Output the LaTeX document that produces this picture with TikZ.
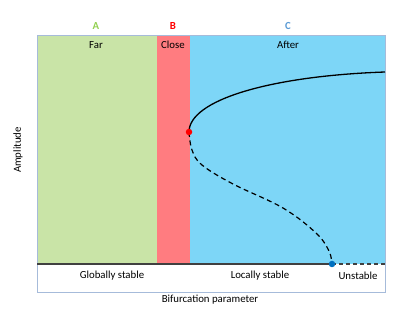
\documentclass[tikz,border=0pt]{standalone}
\usepackage{fontspec}
\setmainfont{Carlito}
\definecolor{farG}{HTML}{C9E4A7}
\definecolor{closeR}{HTML}{FF7C80}
\definecolor{afterB}{HTML}{7DD6F7}
\definecolor{labG}{HTML}{92D050}
\definecolor{labR}{HTML}{FF0000}
\definecolor{labB}{HTML}{5B9BD5}
\definecolor{frameC}{HTML}{A6BBDA}
\definecolor{baseC}{HTML}{404040}
\definecolor{dotB}{HTML}{0070C0}
\tikzset{
  lbl/.style={font=\fontsize{10.8}{13}\selectfont, inner sep=0pt, text=black},
  head/.style={font=\fontsize{10.8}{13}\selectfont\bfseries, inner sep=0pt},
  branch/.style={line width=1.3pt, black},
  dot/.style={circle, inner sep=0pt, minimum size=6.5pt}
}
\begin{document}
\begin{tikzpicture}[x=1pt,y=-1pt]
\useasboundingbox (0,0) rectangle (415,312);
\fill[farG] (37,35) rectangle (157,264);
\fill[closeR] (157,35) rectangle (190,264);
\fill[afterB] (190,35) rectangle (385,264);
\draw[frameC, line width=0.8pt] (37,35) rectangle (385,292);
% labels
\node[head, text=labG] (A) at (96,26) {A};
\node[head, text=labR] (B) at (173,26) {B};
\node[head, text=labB] (C) at (288,26) {C};
\node[lbl] (far) at (96,45) {Far};
\node[lbl] (close) at (173,45) {Close};
\node[lbl] (after) at (288,45) {After};
\node[lbl, rotate=90] (amp) at (18,150) {Amplitude};
\node[lbl] (bif) at (210,300) {Bifurcation parameter};
\node[lbl] (gs) at (112,276) {Globally stable};
\node[lbl] (ls) at (260,276) {Locally stable};
\node[lbl] (us) at (358,276) {Unstable};
% key points
\coordinate (left) at (37,264);
\coordinate (right) at (385,264);
\coordinate (top) at (385,72);
\coordinate (fold) at (189,132);
\coordinate (bif0) at (332,264);
% baseline
\draw[baseC, line width=1.8pt] (left) -- (bif0);
\draw[baseC, line width=1.6pt, dash pattern=on 4pt off 3pt] (bif0) -- (right);
% upper branch
\draw[branch] (fold) .. controls (189,100) and (270,76) .. (top);
% lower unstable branch
\draw[branch, line width=1.2pt, dash pattern=on 5pt off 3.5pt] plot[smooth, tension=0.6] coordinates {(189,132) (192,150) (202,165) (233,184) (283,208) (316,233) (329,251) (332,264)};
\node[dot, fill=labR] (fd) at (fold) {};
\node[dot, fill=dotB] (bd) at (bif0) {};
\end{tikzpicture}
\end{document}
